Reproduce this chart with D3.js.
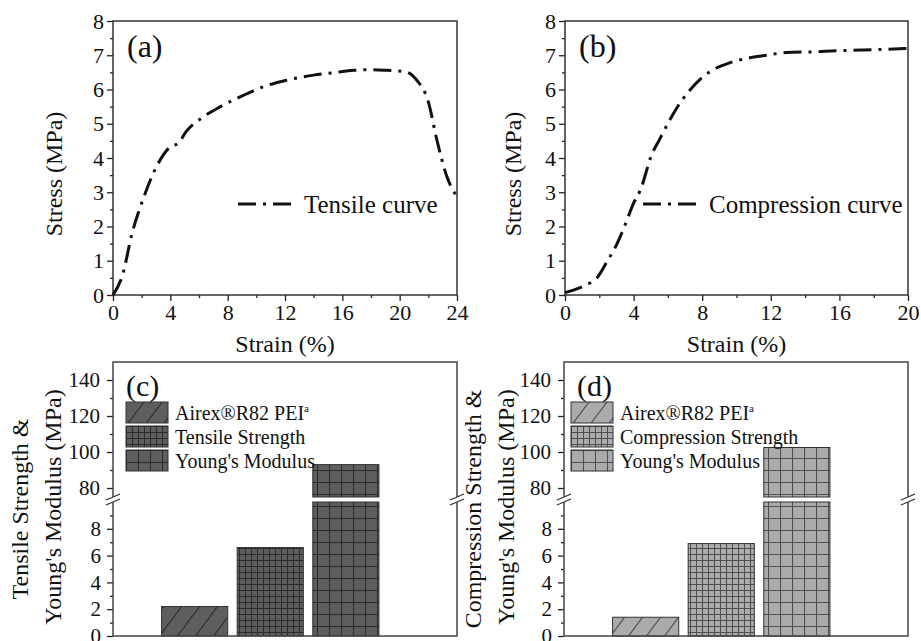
<!DOCTYPE html>
<html>
<head>
<meta charset="utf-8">
<script src="https://cdn.jsdelivr.net/npm/d3@7"></script>
<style>
  body { margin: 0; background: #fff; }
  svg { display: block; }
  .tick line { stroke: #222; stroke-width: 1.3; }
</style>
</head>
<body>
<script>
// tensile curve (a)
var tensileStrain = [0, 0.7, 1.3, 2.1, 3.15, 4.0, 4.55, 5.1, 6.3, 7.5, 8.9, 10.5, 12.1, 14, 15.4, 16.8, 17.9, 19.1, 20.4, 21.2, 22.0, 22.6, 23.3, 24];
var tensileStress = [0, 0.63, 1.75, 2.8, 3.84, 4.33, 4.43, 4.77, 5.2, 5.5, 5.79, 6.08, 6.27, 6.42, 6.49, 6.56, 6.58, 6.56, 6.52, 6.27, 5.64, 4.52, 3.45, 2.87];

// compression curve (b)
var compStrain = [0, 1.2, 1.85, 2.5, 2.9, 3.5, 4.0, 4.4, 5.05, 5.5, 6.1, 6.7, 7.3, 8.05, 8.8, 9.6, 10.6, 11.75, 12.9, 14.5, 15.8, 17.2, 18.6, 20];
var compStress = [0.07, 0.29, 0.49, 1.02, 1.36, 2.04, 2.68, 3.07, 4.09, 4.53, 5.1, 5.6, 5.99, 6.37, 6.62, 6.78, 6.91, 7.0, 7.08, 7.1, 7.13, 7.15, 7.17, 7.2];

// bars (c) and (d)
var tensileBarLabels = ["Airex®R82 PEI", "Tensile Strength", "Young's Modulus"];
var tensileBarValues = [2.2, 6.6, 93];
var compBarLabels = ["Airex®R82 PEI", "Compression Strength", "Young's Modulus"];
var compBarValues = [1.4, 6.9, 102.5];

// tick labels
var curveYTicks = [0, 1, 2, 3, 4, 5, 6, 7, 8];
var tensileXTicks = [0, 4, 8, 12, 16, 20, 24];
var compXTicks = [0, 4, 8, 12, 16, 20];
var barLowTicks = [0, 2, 4, 6, 8];
var barHighTicks = [80, 100, 120, 140];

var FONT = "Liberation Serif";

var svg = d3.select("body").append("svg")
  .attr("width", 921)
  .attr("height", 641);

var defs = svg.append("defs");

function makePatterns(prefix, fill, line) {
  var p = defs.append("pattern")
    .attr("id", prefix + "-diag")
    .attr("patternUnits", "userSpaceOnUse")
    .attr("width", 18).attr("height", 24);
  p.append("rect").attr("width", 18).attr("height", 24).attr("fill", fill);
  p.append("path")
    .attr("d", "M0,24L18,0M-4.5,6L4.5,-6M13.5,30L22.5,18")
    .attr("stroke", line).attr("stroke-width", 1.1);

  p = defs.append("pattern")
    .attr("id", prefix + "-fine")
    .attr("patternUnits", "userSpaceOnUse")
    .attr("width", 6).attr("height", 6);
  p.append("rect").attr("width", 6).attr("height", 6).attr("fill", fill);
  p.append("path")
    .attr("d", "M0,0.5H6M0.5,0V6")
    .attr("stroke", line).attr("stroke-width", 1);

  p = defs.append("pattern")
    .attr("id", prefix + "-coarse")
    .attr("patternUnits", "userSpaceOnUse")
    .attr("width", 12).attr("height", 12);
  p.append("rect").attr("width", 12).attr("height", 12).attr("fill", fill);
  p.append("path")
    .attr("d", "M0,0.5H12M0.5,0V12")
    .attr("stroke", line).attr("stroke-width", 1.1);
}
makePatterns("dark", "#5e5e5e", "#2c2c2c");
makePatterns("light", "#ababab", "#4e4e4e");

// d3 axis puts a domain line on the group, drop it (frame is drawn apart)
function axisClean(sel) {
  sel.select(".domain").remove();
  sel.selectAll(".tick text").style("font-size", "22px").attr("fill", "#111");
}

function curvePanel(o) {
  var g = svg.append("g").attr("transform", "translate(" + o.left + "," + o.top + ")");
  var x = d3.scaleLinear().domain([0, o.xMax]).range([0, o.w]);
  var y = d3.scaleLinear().domain([0, 8]).range([o.h, 0]);

  // minor ticks
  g.append("g")
    .call(d3.axisLeft(y).tickValues(d3.range(0.5, 8, 1)).tickSize(3).tickFormat(""))
    .call(axisClean);
  g.append("g")
    .attr("transform", "translate(0," + o.h + ")")
    .call(d3.axisBottom(x).tickValues(d3.range(2, o.xMax, 4)).tickSize(3).tickFormat(""))
    .call(axisClean);

  // major ticks
  g.append("g")
    .call(d3.axisLeft(y).tickValues(curveYTicks).tickSize(6).tickPadding(3))
    .call(axisClean);
  g.append("g")
    .attr("transform", "translate(0," + o.h + ")")
    .call(d3.axisBottom(x).tickValues(o.xTicks).tickSize(6).tickPadding(3))
    .call(axisClean);

  g.append("rect")
    .attr("width", o.w).attr("height", o.h)
    .attr("fill", "none").attr("stroke", "#333").attr("stroke-width", 1.5);

  var pts = o.xs.map(function(d, i) { return [d, o.ys[i]]; });
  var line = d3.line()
    .x(function(d) { return x(d[0]); })
    .y(function(d) { return y(d[1]); })
    .curve(d3.curveMonotoneX);

  g.append("path")
    .datum(pts)
    .attr("d", line)
    .attr("fill", "none")
    .attr("stroke", "#111")
    .attr("stroke-width", 3)
    .attr("stroke-dasharray", "18,7,3,7");

  // legend
  g.append("line")
    .attr("x1", o.legX).attr("x2", o.legX + 57)
    .attr("y1", 183).attr("y2", 183)
    .attr("stroke", "#111").attr("stroke-width", 3)
    .attr("stroke-dasharray", "18,7,3,7");
  g.append("text")
    .attr("x", o.legX + 66).attr("y", 192)
    .attr("font-size", 25).attr("fill", "#111")
    .text(o.legend);

  g.append("text")
    .attr("x", 14).attr("y", 36)
    .attr("font-size", 32).attr("fill", "#111")
    .text(o.label);

  g.append("text")
    .attr("x", o.w / 2).attr("y", 331)
    .attr("text-anchor", "middle")
    .attr("font-size", 24).attr("fill", "#111")
    .text("Strain (%)");

  g.append("text")
    .attr("transform", "translate(" + (o.titleX - o.left) + "," + 153 + ") rotate(-90)")
    .attr("text-anchor", "middle")
    .attr("font-size", 24).attr("fill", "#111")
    .text("Stress (MPa)");
}

function barPanel(o) {
  var g = svg.append("g").attr("transform", "translate(" + o.left + "," + o.top + ")");
  var w = 344, h = 274;
  var x = d3.scaleLinear().domain([-0.08, 4.47]).range([0, w]);
  var yHigh = d3.scaleLinear().domain([75, 150]).range([135, 0]);
  var yLow = d3.scaleLinear().domain([0, 10]).range([h, 140]);
  var bw = x(0.875) - x(0);
  var fills = ["diag", "fine", "coarse"];

  // bars
  o.values.forEach(function(v, i) {
    var cx = x(i + 1);
    var fill = "url(#" + o.prefix + "-" + fills[i] + ")";
    var top = v > 10 ? 10 : v;
    g.append("rect")
      .attr("x", cx - bw / 2).attr("width", bw)
      .attr("y", yLow(top)).attr("height", yLow(0) - yLow(top))
      .attr("fill", fill).attr("stroke", "#333").attr("stroke-width", 1);
    if (v > 75) {
      g.append("rect")
        .attr("x", cx - bw / 2).attr("width", bw)
        .attr("y", yHigh(v)).attr("height", yHigh(75) - yHigh(v))
        .attr("fill", fill).attr("stroke", "#333").attr("stroke-width", 1);
    }
  });

  // ticks
  g.append("g")
    .call(d3.axisLeft(yLow).tickValues([1, 3, 5, 7, 9]).tickSize(3).tickFormat(""))
    .call(axisClean);
  g.append("g")
    .call(d3.axisLeft(yHigh).tickValues([90, 110, 130]).tickSize(3).tickFormat(""))
    .call(axisClean);
  g.append("g")
    .call(d3.axisLeft(yLow).tickValues(barLowTicks).tickSize(6).tickPadding(6))
    .call(axisClean);
  g.append("g")
    .call(d3.axisLeft(yHigh).tickValues(barHighTicks).tickSize(6).tickPadding(7))
    .call(axisClean);
  g.selectAll(".tick text").style("font-size", "21px");

  // frame with broken side axes
  var frame = "M0,135V0H" + w + "V135M0,140V" + h + "H" + w + "V140";
  g.append("path")
    .attr("d", frame)
    .attr("fill", "none").attr("stroke", "#444").attr("stroke-width", 1.5);
  [0, w].forEach(function(ax) {
    [135, 140].forEach(function(by) {
      g.append("line")
        .attr("x1", ax - 7).attr("y1", by + 3)
        .attr("x2", ax + 7).attr("y2", by - 3)
        .attr("stroke", "#333").attr("stroke-width", 1.3);
    });
  });

  // legend
  var leg = g.append("g").attr("transform", "translate(" + o.legX + ",40)");
  o.labels.forEach(function(lab, i) {
    leg.append("rect")
      .attr("x", 0).attr("y", i * 24)
      .attr("width", 42).attr("height", 21)
      .attr("fill", "url(#" + o.prefix + "-" + fills[i] + ")")
      .attr("stroke", "#333").attr("stroke-width", 1);
    var t = leg.append("text")
      .attr("x", 49).attr("y", i * 24 + 18)
      .attr("font-size", 20).attr("fill", "#111")
      .text(lab);
    if (i === 0) {
      t.append("tspan")
        .attr("font-size", 11)
        .attr("dy", -8)
        .text("a");
    }
  });

  g.append("text")
    .attr("x", o.labelX).attr("y", 34)
    .attr("font-size", 30).attr("fill", "#111")
    .text(o.label);

  g.append("text")
    .attr("transform", "translate(" + (o.t1x - o.left) + ",147) rotate(-90)")
    .attr("text-anchor", "middle")
    .attr("font-size", 24).attr("fill", "#111")
    .text(o.title1);
  g.append("text")
    .attr("transform", "translate(" + (o.t2x - o.left) + ",145) rotate(-90)")
    .attr("text-anchor", "middle")
    .attr("font-size", 24).attr("fill", "#111")
    .text(o.title2);
}

curvePanel({
  left: 113, top: 21, w: 344, h: 274,
  xMax: 24, xTicks: tensileXTicks,
  xs: tensileStrain, ys: tensileStress,
  legend: "Tensile curve", legX: 125,
  label: "(a)", titleX: 62
});

curvePanel({
  left: 565, top: 21, w: 343, h: 274,
  xMax: 20, xTicks: compXTicks,
  xs: compStrain, ys: compStress,
  legend: "Compression curve", legX: 78,
  label: "(b)", titleX: 521
});

barPanel({
  left: 113, top: 362,
  values: tensileBarValues, labels: tensileBarLabels,
  prefix: "dark", legX: 13, labelX: 13, label: "(c)",
  title1: "Tensile Strength &", title2: "Young's Modulus (MPa)",
  t1x: 28, t2x: 61
});

barPanel({
  left: 564, top: 362,
  values: compBarValues, labels: compBarLabels,
  prefix: "light", legX: 7, labelX: 13, label: "(d)",
  title1: "Compression Strength &", title2: "Young's Modulus (MPa)",
  t1x: 481, t2x: 514
});

// one serif face for every label
svg.selectAll("text").style("font-family", FONT);
</script>
</body>
</html>
